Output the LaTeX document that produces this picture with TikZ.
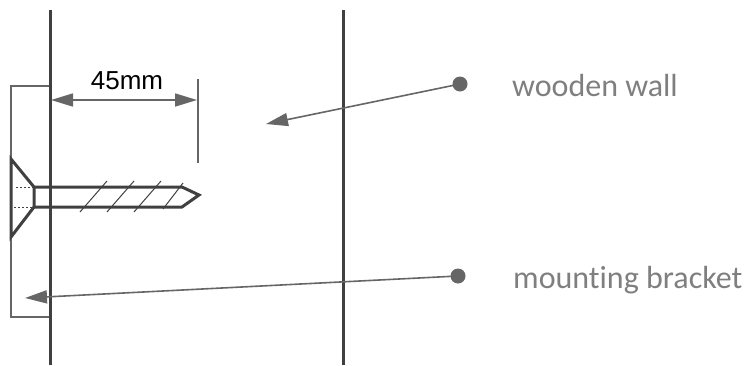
\documentclass[tikz,border=0pt]{standalone}
\usepackage{xcolor}
\usepackage{fontspec}
\setmainfont[Ligatures=NoCommon]{Carlito}
\newfontfamily\dimfont{Liberation Sans}
\usepackage{tikz}
\usetikzlibrary{arrows.meta}

\definecolor{wallgray}{HTML}{404040}
\definecolor{leadgray}{HTML}{666666}
\definecolor{labelgray}{HTML}{7F7F7F}

\tikzset{
  wall/.style={line width=3pt, color=wallgray},
  screw/.style={line width=3pt, color=wallgray, line join=miter},
  leader/.style={line width=1.6pt, color=leadgray, -{Triangle[length=22pt,width=13pt]}, shorten <=-1pt},
  dot/.style={circle, fill=leadgray, minimum size=15pt, inner sep=0pt},
  partlabel/.style={anchor=base west, inner sep=0pt, color=labelgray, font=\fontsize{32}{36}\selectfont},
}

\begin{document}
\begin{tikzpicture}[x=1pt,y=-1pt]
  \useasboundingbox (0,0) rectangle (747,365);

  % bracket
  \draw[line width=1.6pt, color=leadgray] (49,86) -- (11,86) -- (11,317) -- (49,317);

  \draw[wall] (50,10) -- (50,365);
  \draw[wall] (343,10) -- (343,365);

  % screw
  \draw[screw] (11,159) -- (34,187) -- (34,207) -- (11,237) -- cycle;
  \draw[screw] (34,187) -- (182,187) -- (199,195) -- (182,207) -- (34,207);
  \foreach \Pos in {80, 107, 134}{
    \draw[line width=1pt, color=wallgray] (\Pos,212) -- ++(27,-31);
  };
  \draw[line width=1pt, color=wallgray] (163,209) -- (183,183);
  \draw[line width=1pt, dash pattern=on 2pt off 2pt, color=wallgray] (16,187) -- (33,187);
  \draw[line width=1pt, dash pattern=on 2pt off 2pt, color=wallgray] (14,207) -- (33,207);

  % 45mm
  \coordinate (dimleft) at (51,100);
  \coordinate (dimright) at (197,100);
  \draw[line width=2pt, color=leadgray] (198,79) -- (198,163);
  \draw[line width=1.6pt, color=leadgray, {Triangle[length=22pt,width=13pt]}-{Triangle[length=22pt,width=13pt]}] (dimleft) -- (dimright);
  \node[inner sep=0pt, anchor=base] (dimlabel) at (127,89) {\dimfont\fontsize{26}{30}\selectfont 45mm};

  % labels
  \node[dot] (walldot) at (460,84) {};
  \node[dot] (bracketdot) at (458,276) {};
  \coordinate (walltip) at (266,124);
  \coordinate (brackettip) at (25,298);
  \draw[leader] (walldot) -- (walltip);
  \draw[leader] (bracketdot) -- (brackettip);
  \node[partlabel] (walllabel) at (512,96) {wooden wall};
  \node[partlabel] (bracketlabel) at (513,288) {mounting bracket};

\end{tikzpicture}
\end{document}
